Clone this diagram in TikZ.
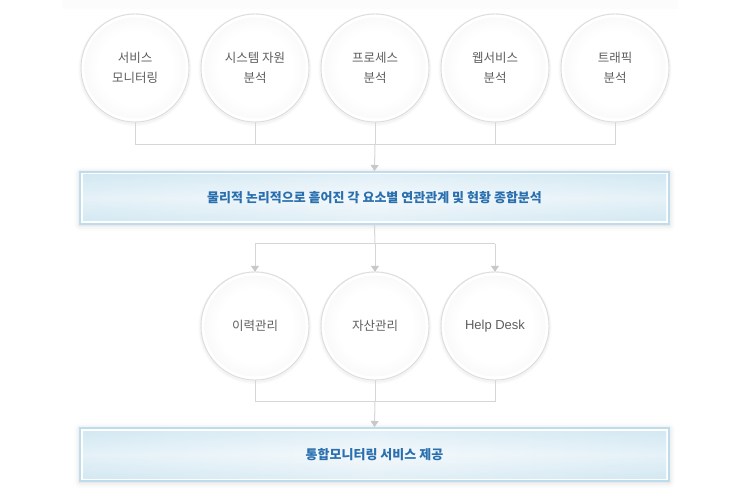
\documentclass[tikz,border=0pt]{standalone}
\usepackage{fontspec}
\setmainfont{Noto Sans CJK KR}
\newfontfamily\latinfont{Liberation Sans}
\usetikzlibrary{arrows.meta,calc}
\definecolor{linec}{HTML}{D6D6D6}
\definecolor{arrc}{HTML}{C8C8C8}
\definecolor{ringc}{HTML}{DCDCDC}
\definecolor{txtgray}{HTML}{5E5E5E}
\definecolor{barborder}{HTML}{BEDDEC}
\definecolor{baredge}{HTML}{D4E9F3}
\definecolor{barmid}{HTML}{F4F9FC}
\definecolor{bartxt}{HTML}{2A6FAE}
\pgfdeclareradialshading{ballshade}{\pgfpoint{0bp}{0bp}}{color(0bp)=(white); color(18bp)=(white); color(50bp)=(black!9)}
\tikzset{
  ball/.style={circle, minimum size=108pt, inner sep=0pt, align=center,
    font=\fontsize{12.5}{20}\selectfont, text=txtgray},
  conn/.style={draw=linec, line width=1pt},
  arr/.style={conn, -{Triangle[width=8pt,length=6pt,fill=arrc,color=arrc]}},
  bartext/.style={font=\fontsize{13}{15}\selectfont\bfseries, text=bartxt}
}
\newcommand{\mkball}[4]{%
  % #1 name, #2 x, #3 y, #4 text
  \fill[black, opacity=0.025] (#2,#3+1.5) circle (56.5pt);
  \fill[black, opacity=0.025] (#2,#3+1) circle (55.5pt);
  \draw[ringc, fill=white, line width=0.9pt] (#2,#3) circle (54pt);
  \shade[shading=ballshade] (#2,#3) circle (50.5pt);
  \node[ball] (#1) at (#2,#3) {#4};
}
\newcommand{\mkbar}[5]{%
  % #1 name, #2 x1, #3 y1, #4 x2, #5 y2
  \foreach \s/\o in {6/0.012,4/0.018,2.5/0.025,1.2/0.03}{
    \fill[black, opacity=\o, rounded corners=\s pt] (#2-\s,#3-\s+1) rectangle (#4+\s,#5+\s+1);
  }
  \draw[barborder, fill=white, line width=1.5pt] (#2,#3) rectangle (#4,#5);
  \shade[left color=baredge, right color=baredge, middle color=barmid] (#2+3,#3+3) rectangle (#4-3,#5-3);
  \shade[top color=baredge, bottom color=baredge, middle color=barmid, fill opacity=0.55] (#2+3,#3+3) rectangle (#4-3,#5-3);
  \coordinate (#1) at ({(#2+#4)/2},{(#3+#5)/2});
  \coordinate (#1-n) at ({(#2+#4)/2},#3);
  \coordinate (#1-s) at ({(#2+#4)/2},#5);
}
\begin{document}
\begin{tikzpicture}[x=1pt,y=-1pt]
\useasboundingbox (0,0) rectangle (740,500);
\fill[black!1] (62,0) rectangle (678,9);

% top circles
\mkball{b1}{135}{68}{서비스\\모니터링}
\mkball{b2}{255}{68}{시스템 자원\\분석}
\mkball{b3}{375}{68}{프로세스\\분석}
\mkball{b4}{495}{68}{웹서비스\\분석}
\mkball{b5}{615}{68}{트래픽\\분석}

% bar 1
\mkbar{bar1}{80}{172}{669}{224}
\node[bartext] (t1) at (bar1) {물리적 논리적으로 흩어진 각 요소별 연관관계 및 현황 종합분석};

% middle circles
\mkball{m1}{255}{326}{이력관리}
\mkball{m2}{375}{326}{자산관리}
\mkball{m3}{495}{326}{\latinfont\fontsize{13}{15}\selectfont Help Desk}

% bar 2
\mkbar{bar2}{80}{428}{669}{481}
\node[bartext] (t2) at (bar2) {통합모니터링 서비스 제공};

% connectors top
\coordinate (j1) at (375,145);
\draw[conn] (b1.south) -- (135,145) -- (615,145) -- (b5.south);
\draw[conn] (b2.south) -- (255,145);
\draw[conn] (b3.south) -- (j1);
\draw[conn] (b4.south) -- (495,145);
\draw[arr] (j1) -- ($(bar1-n)+(0,-1)$);

% connectors middle
\coordinate (j2) at (375,244);
\draw[conn] (bar1-s) -- (j2);
\draw[conn] (255,244) -- (495,244);
\draw[arr] (255,244) -- (m1.north);
\draw[arr] (j2) -- (m2.north);
\draw[arr] (495,244) -- (m3.north);

% connectors bottom
\coordinate (j3) at (375,401);
\draw[conn] (m1.south) -- (255,401) -- (495,401) -- (m3.south);
\draw[conn] (m2.south) -- (j3);
\draw[arr] (j3) -- ($(bar2-n)+(0,-1)$);
\end{tikzpicture}
\end{document}
